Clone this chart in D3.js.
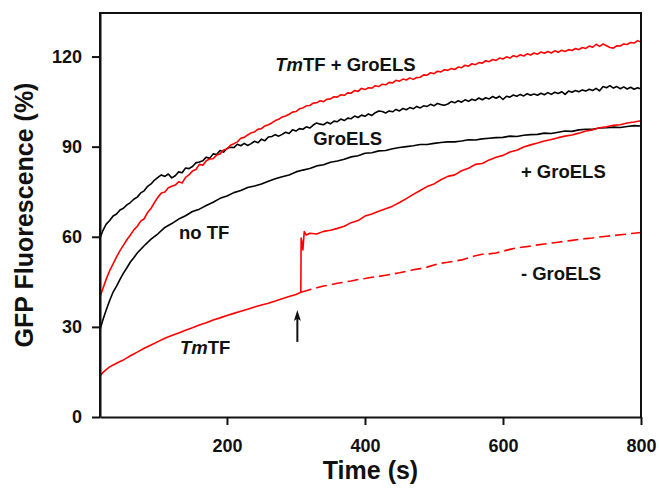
<!DOCTYPE html>
<html>
<head>
<meta charset="utf-8">
<script src="https://cdn.jsdelivr.net/npm/d3@7"></script>
<style>
  body { margin: 0; background: #fff; }
  svg { display: block; }
  text { font-family: "Liberation Sans", Arial, sans-serif; font-weight: bold; fill: #111; }
</style>
</head>
<body>
<svg></svg>
<script>
// sample times (s)
var timeFine = [16].concat(d3.range(20, 801, 5))      // noisy upper traces
var timeFull = [16, 20, 25, 30, 35, 40, 45, 50, 55, 60, 65, 70, 80, 90].concat(d3.range(100, 801, 10))

// GroELS (black, upper) on timeFine
var groels = [59.5, 62.0, 64.2, 65.4, 66.9, 67.6, 68.9, 69.5, 70.6, 71.4, 72.5, 73.2, 74.6, 75.3, 76.8, 77.6, 78.9,
  79.8, 80.6, 80.1, 80.9, 79.6, 80.3, 81.6, 81.3, 82.9, 82.7,
  83.4, 84.6, 84.9, 85.3, 86.5, 86.1, 87.6, 87.4, 88.7, 88.2,
  89.4, 89.8, 89.7, 90.8, 90.3, 91.1, 90.4, 91.0, 91.8, 91.3,
  92.5, 92.0, 93.2, 93.4, 94.0, 93.5, 94.1, 94.8, 94.4, 95.6,
  95.2, 96.0, 95.8, 96.6, 96.2, 97.2, 97.9, 97.5, 97.3, 98.1,
  97.6, 98.5, 98.3, 99.2, 98.7, 99.5, 99.3, 100.2, 99.7, 100.5,
  100.1, 100.9, 100.4, 101.3, 101.9, 101.7, 101.2, 101.9, 101.6, 102.4,
  101.9, 102.7, 102.3, 103.0, 102.6, 103.4, 102.9, 103.6, 103.4, 104.1,
  103.6, 104.4, 104.0, 103.8, 104.2, 105.0, 104.6, 105.3, 104.8, 105.6,
  105.1, 105.8, 105.4, 106.2, 105.6, 106.3, 105.9, 106.7, 106.1, 106.8,
  105.7, 106.8, 106.5, 107.2, 106.8, 107.4, 106.9, 107.6, 107.1, 107.5,
  107.1, 107.8, 107.3, 108.0, 107.4, 108.1, 107.7, 108.3, 107.4, 108.5,
  108.1, 108.7, 108.3, 108.9, 108.5, 109.1, 108.7, 109.4, 108.6, 110.0,
  109.6, 110.3, 109.5, 110.0, 109.3, 109.9, 109.2, 109.8, 109.1, 109.6,
  109.2]

// TmTF + GroELS (red, upper) on timeFine
var tmtfGroels = [40.0, 42.6, 45.9, 48.7, 51.0, 53.3, 55.4, 57.2, 59.0, 60.6, 62.3, 63.5, 65.2, 66.0, 68.1, 69.5, 71.4,
  73.2, 74.6, 74.9, 76.3, 76.8, 77.2, 78.3, 77.9, 79.8, 80.6,
  81.9, 82.4, 84.1, 83.8, 85.3, 85.9, 86.0, 87.2, 87.6, 88.9,
  89.2, 90.5, 91.0, 91.6, 92.8, 93.1, 93.9, 94.6, 94.9, 95.8,
  96.0, 96.9, 97.3, 97.9, 98.7, 99.1, 99.9, 100.2, 100.8, 101.5,
  101.7, 102.6, 102.9, 103.6, 103.7, 104.5, 104.6, 105.3, 105.0, 105.8,
  105.9, 106.6, 106.5, 107.3, 107.1, 107.9, 107.8, 108.7, 108.4, 109.4,
  109.0, 109.6, 109.5, 110.3, 110.0, 110.8, 110.6, 111.4, 111.2, 112.1,
  111.8, 112.5, 112.2, 112.9, 112.4, 113.0, 113.1, 113.9, 113.8, 114.6,
  114.3, 115.1, 114.9, 115.6, 115.4, 116.0, 115.7, 116.5, 116.3, 117.1,
  116.8, 117.6, 117.3, 118.0, 117.8, 118.6, 118.3, 119.0, 118.7, 119.5,
  119.2, 119.9, 119.5, 120.3, 119.9, 120.6, 120.2, 120.9, 120.5, 121.2,
  120.8, 121.5, 121.1, 121.7, 121.2, 121.9, 121.4, 122.1, 121.7, 122.3,
  122.0, 122.7, 122.3, 123.0, 122.7, 123.5, 123.1, 124.1, 123.4, 124.2,
  123.6, 123.0, 122.8, 123.6, 123.5, 124.2, 124.0, 124.7, 124.5, 125.3,
  124.8]

// no TF (black, lower) on timeFull
var noTF = [29.0, 32.2, 35.6, 38.8, 41.6, 43.6, 45.8, 47.9, 49.7, 51.6, 53.0, 54.6, 57.0, 59.2, 61.0,
  63.1, 64.4, 65.9, 67.0, 68.4, 69.2, 70.4, 71.5, 72.8, 73.6, 74.7, 75.4, 76.4, 76.9, 77.6,
  78.5, 79.3, 80.0, 80.6, 81.6, 82.2, 82.7, 83.6, 84.0, 84.8, 85.2, 85.8, 86.6, 87.0, 87.8,
  88.0, 88.6, 88.7, 89.3, 89.7, 90.0, 90.3, 90.7, 90.7, 91.1, 91.4, 91.6, 91.6, 91.9, 92.3,
  92.2, 92.6, 92.8, 93.0, 93.1, 93.5, 93.4, 93.8, 94.0, 94.1, 94.5, 94.4, 94.8, 95.2, 95.1,
  95.6, 95.8, 95.8, 96.2, 96.3, 96.5, 96.4, 96.7, 97.0, 96.9]

// TmTF alone, before GroELS is added (red, solid)
var timeBefore = [16, 20, 25, 30, 35, 40, 45, 50, 55, 60, 65, 70, 80, 90, 100,
  110, 120, 130, 140, 150, 160, 170, 180, 190, 200, 210, 220, 230, 240, 250,
  260, 270, 280, 290, 300, 307]
var tmtf = [13.6, 14.8, 15.8, 16.7, 17.3, 17.9, 18.5, 19.0, 19.7, 20.4, 21.0, 21.6, 22.9, 24.0, 25.1,
  26.2, 27.1, 28.0, 28.9, 29.7, 30.6, 31.4, 32.3, 33.0, 33.8, 34.5, 35.2, 35.9, 36.6, 37.3,
  37.9, 38.6, 39.4, 40.1, 40.8, 41.5]

// - GroELS (red, dashed)
var timeMinus = [307].concat(d3.range(320, 801, 10))
var minusGroels = [41.5, 42.4, 43.0, 43.6, 44.0, 44.5, 44.9, 45.3, 45.8, 46.1,
  46.5, 46.8, 47.2, 47.6, 48.0, 48.5, 49.0, 49.4, 49.9, 50.6, 51.2, 51.5, 51.9, 52.3, 53.0,
  53.7, 54.2, 54.3, 54.6, 55.2, 55.8, 56.3, 56.6, 56.9, 57.3, 57.6, 57.9, 58.2, 58.5, 58.8,
  59.1, 59.4, 59.6, 59.9, 60.2, 60.4, 60.7, 60.9, 61.2, 61.4]

// + GroELS (red, after addition)
var timePlus = [307, 307.5, 308.5, 310, 312, 315, 320].concat(d3.range(330, 801, 10))
var plusGroels = [41.5, 59.6, 58.4, 55.6, 61.7, 60.6, 61.2, 60.9, 61.8, 62.2, 62.8, 63.5, 64.7, 65.4, 66.9,
  67.6, 68.5, 69.3, 70.2, 71.4, 72.7, 74.1, 75.4, 76.7, 77.6, 79.0, 80.1, 80.6, 82.0, 82.8,
  84.1, 84.4, 85.6, 86.5, 87.1, 88.2, 88.8, 89.9, 90.6, 91.2, 91.9, 92.4, 93.0, 93.5, 93.9,
  94.5, 95.2, 95.6, 96.3, 96.6, 97.1, 97.3, 97.9, 98.2, 98.6]

var xTicks = [200, 400, 600, 800]
var yTicks = [0, 30, 60, 90, 120]

// curve labels: position in data units, text parts [text, italic]
var labels = [
  { t: 270, v: 115.2, parts: [["Tm", true], ["TF + GroELS", false]] },
  { t: 325, v: 90.6, parts: [["GroELS", false]] },
  { t: 130.5, v: 59.2, parts: [["no TF", false]] },
  { t: 626, v: 79.6, parts: [["+ GroELS", false]] },
  { t: 626, v: 45.6, parts: [["- GroELS", false]] },
  { t: 132, v: 20.9, parts: [["Tm", true], ["TF", false]] }
]
var arrowAt = { t: 302, from: 25.0, to: 35.6 }

var W = 659, H = 492
var margin = { top: 13, right: 18, bottom: 75, left: 100 }
var width = W - margin.left - margin.right
var height = H - margin.top - margin.bottom

var svg = d3.select("svg")
  .attr("width", W)
  .attr("height", H)

var g = svg.append("g")
  .attr("transform", "translate(" + margin.left + "," + margin.top + ")")

var x = d3.scaleLinear().domain([16, 800]).range([0, width])
var y = d3.scaleLinear().domain([0, 134.5]).range([height, 0])

function pairs(ts, vs) {
  return ts.map(function(t, i) { return [t, vs[i]] })
}

var line = d3.line()
  .x(function(d) { return x(d[0]) })
  .y(function(d) { return y(d[1]) })

var series = [
  { data: pairs(timeFull, noTF), color: "#000", dash: null },
  { data: pairs(timeFine, groels), color: "#000", dash: null },
  { data: pairs(timeFine, tmtfGroels), color: "#ff0000", dash: null },
  { data: pairs(timeBefore, tmtf), color: "#ff0000", dash: null },
  { data: pairs(timeMinus, minusGroels), color: "#ff0000", dash: "11,5" },
  { data: pairs(timePlus, plusGroels), color: "#ff0000", dash: null }
]

g.selectAll(".trace")
  .data(series)
  .enter()
  .append("path")
  .attr("class", "trace")
  .attr("d", function(d) { return line(d.data) })
  .attr("fill", "none")
  .attr("stroke", function(d) { return d.color })
  .attr("stroke-width", 1.6)
  .attr("stroke-linejoin", "round")
  .attr("stroke-dasharray", function(d) { return d.dash })

// frame (top and right)
g.append("path")
  .attr("d", "M0," + height + "V0H" + width + "V" + height)
  .attr("fill", "none")
  .attr("stroke", "#111")
  .attr("stroke-width", 2)

var xAxis = g.append("g")
  .attr("transform", "translate(0," + height + ")")
  .call(d3.axisBottom(x).tickValues(xTicks).tickSize(8).tickSizeOuter(0).tickPadding(14))

var yAxis = g.append("g")
  .call(d3.axisLeft(y).tickValues(yTicks).tickSize(8).tickSizeOuter(0).tickPadding(10))

g.selectAll(".domain, .tick line")
  .attr("stroke", "#111")
  .attr("stroke-width", 2)
g.selectAll(".tick text")
  .attr("font-size", "18px")
  .attr("font-family", "Liberation Sans, Arial, sans-serif")
  .attr("font-weight", "bold")
  .attr("fill", "#111")

// curve labels
labels.forEach(function(l) {
  var t = g.append("text")
    .attr("x", x(l.t))
    .attr("y", y(l.v))
    .attr("font-size", "18.5px")
  l.parts.forEach(function(p) {
    t.append("tspan")
      .attr("font-style", p[1] ? "italic" : "normal")
      .text(p[0])
  })
})

// arrow marking GroELS addition
var ax = x(arrowAt.t), tipY = y(arrowAt.to)
g.append("line")
  .attr("x1", ax)
  .attr("x2", ax)
  .attr("y1", y(arrowAt.from))
  .attr("y2", tipY + 6)
  .attr("stroke", "#111")
  .attr("stroke-width", 2)
g.append("path")
  .attr("d", "M" + ax + "," + tipY + "L" + (ax - 3.5) + "," + (tipY + 11) +
    "L" + ax + "," + (tipY + 8.5) + "L" + (ax + 3.5) + "," + (tipY + 11) + "Z")
  .attr("fill", "#111")

// axis titles
g.append("text")
  .attr("x", width / 2)
  .attr("y", height + 62)
  .attr("text-anchor", "middle")
  .attr("font-size", "25px")
  .text("Time (s)")

g.append("text")
  .attr("transform", "rotate(-90)")
  .attr("x", -height / 2)
  .attr("y", -67)
  .attr("text-anchor", "middle")
  .attr("font-size", "25px")
  .text("GFP Fluorescence (%)")
</script>
</body>
</html>
